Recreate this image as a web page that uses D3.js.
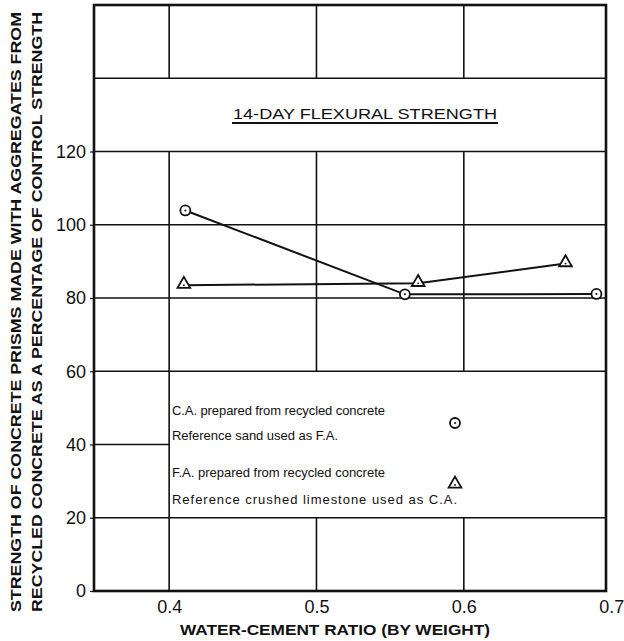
<!DOCTYPE html>
<html>
<head>
<meta charset="utf-8">
<script src="https://cdn.jsdelivr.net/npm/d3@7"></script>
<style>
  body { margin: 0; background: #fff; }
  text { font-family: "Liberation Sans", Arial, sans-serif; fill: #111; }
</style>
</head>
<body>
<div id="chart"></div>
<script>
// data
var caRatio = [0.411, 0.560, 0.690];
var caStrength = [103.9, 81.0, 81.1];
var faRatio = [0.410, 0.569, 0.669];
var faStrength = [83.5, 84.0, 89.4];
var xTicks = [0.4, 0.5, 0.6, 0.7];
var yTicks = [0, 20, 40, 60, 80, 100, 120];
var legendText = [
  ["C.A. prepared from recycled concrete", "Reference sand used as F.A."],
  ["F.A. prepared from recycled concrete", "Reference crushed limestone used as C.A."]
];

var width = 624, height = 641;
var plotLeft = 94, plotRight = 606, plotTop = 5, plotBottom = 591;

var x = d3.scaleLinear().domain([0.349, 0.6965]).range([plotLeft, plotRight]);
var y = d3.scaleLinear().domain([0, 160]).range([plotBottom, plotTop]);

var svg = d3.select("#chart").append("svg")
  .attr("width", width).attr("height", height)
  .attr("viewBox", [0, 0, width, height]);

var grid = svg.append("g").attr("stroke", "#111").attr("stroke-width", 1.6).attr("fill", "none");

// horizontal rules
[20, 60, 80, 100, 120, 140].forEach(function (v) {
  grid.append("line").attr("x1", x(0.349)).attr("x2", x(0.6965)).attr("y1", y(v)).attr("y2", y(v));
});
grid.append("line").attr("x1", x(0.349)).attr("x2", x(0.4)).attr("y1", y(40)).attr("y2", y(40));

// vertical rules, broken by the title band and the legend box
grid.append("line").attr("x1", x(0.4)).attr("x2", x(0.4)).attr("y1", y(160)).attr("y2", y(140));
grid.append("line").attr("x1", x(0.4)).attr("x2", x(0.4)).attr("y1", y(120)).attr("y2", y(0));
[0.5, 0.6].forEach(function (v) {
  grid.append("line").attr("x1", x(v)).attr("x2", x(v)).attr("y1", y(160)).attr("y2", y(140));
  grid.append("line").attr("x1", x(v)).attr("x2", x(v)).attr("y1", y(120)).attr("y2", y(60));
  grid.append("line").attr("x1", x(v)).attr("x2", x(v)).attr("y1", y(20)).attr("y2", y(0));
});

// frame
svg.append("rect").attr("x", plotLeft).attr("y", plotTop)
  .attr("width", plotRight - plotLeft).attr("height", plotBottom - plotTop)
  .attr("fill", "none").attr("stroke", "#111").attr("stroke-width", 2.6);

// axes
var yAxis = d3.axisLeft(y).tickValues(yTicks).tickSize(4).tickPadding(4).tickFormat(d3.format("d"));
var gy = svg.append("g").attr("transform", "translate(" + plotLeft + ",0)").call(yAxis);
gy.select(".domain").remove();
gy.selectAll("text").attr("font-size", 18).attr("font-family", null);
gy.selectAll("line").attr("stroke", "#111").attr("stroke-width", 1.2);

var xAxis = d3.axisBottom(x).tickValues(xTicks).tickSize(0).tickPadding(9).tickFormat(d3.format(".1f"));
var gx = svg.append("g").attr("transform", "translate(0," + plotBottom + ")").call(xAxis);
gx.select(".domain").remove();
gx.selectAll("text").attr("font-size", 18).attr("font-family", null);

// axis titles
svg.append("text")
  .attr("x", 335).attr("y", 635).attr("text-anchor", "middle")
  .attr("font-size", 15).attr("font-weight", "bold")
  .attr("textLength", 310).attr("lengthAdjust", "spacingAndGlyphs")
  .text("WATER-CEMENT RATIO (BY WEIGHT)");

svg.append("text")
  .attr("transform", "translate(21,312) rotate(-90)").attr("text-anchor", "middle")
  .attr("font-size", 15).attr("font-weight", "bold")
  .attr("textLength", 600).attr("lengthAdjust", "spacingAndGlyphs")
  .text("STRENGTH OF CONCRETE PRISMS MADE WITH AGGREGATES FROM");
svg.append("text")
  .attr("transform", "translate(42,312) rotate(-90)").attr("text-anchor", "middle")
  .attr("font-size", 15).attr("font-weight", "bold")
  .attr("textLength", 600).attr("lengthAdjust", "spacingAndGlyphs")
  .text("RECYCLED CONCRETE AS A PERCENTAGE OF CONTROL STRENGTH");

// chart title
svg.append("text")
  .attr("x", 365).attr("y", 119).attr("text-anchor", "middle")
  .attr("font-size", 15)
  .attr("textLength", 264).attr("lengthAdjust", "spacingAndGlyphs")
  .text("14-DAY FLEXURAL STRENGTH");
svg.append("line").attr("x1", 232).attr("x2", 498).attr("y1", 123).attr("y2", 123)
  .attr("stroke", "#111").attr("stroke-width", 1.8);

// lines
var line = d3.line().x(function (d) { return x(d[0]); }).y(function (d) { return y(d[1]); });
var ca = d3.zip(caRatio, caStrength);
var fa = d3.zip(faRatio, faStrength);

svg.append("path").datum(ca).attr("d", line).attr("fill", "none").attr("stroke", "#111").attr("stroke-width", 2);
svg.append("path").datum(fa).attr("d", line).attr("fill", "none").attr("stroke", "#111").attr("stroke-width", 2);

function circleMark(g) {
  g.append("circle").attr("r", 5).attr("fill", "#fff").attr("stroke", "#111").attr("stroke-width", 1.8);
  g.append("circle").attr("r", 1).attr("fill", "#111");
}
function triMark(g) {
  g.append("path").attr("d", d3.symbol(d3.symbolTriangle, 70)()).attr("transform", "translate(0,-1)")
    .attr("fill", "#fff").attr("stroke", "#111").attr("stroke-width", 1.8);
  g.append("circle").attr("r", 0.9).attr("fill", "#111");
}

svg.selectAll("g.ca").data(ca).enter().append("g").attr("class", "ca")
  .attr("transform", function (d) { return "translate(" + x(d[0]) + "," + y(d[1]) + ")"; })
  .each(function () { circleMark(d3.select(this)); });
svg.selectAll("g.fa").data(fa).enter().append("g").attr("class", "fa")
  .attr("transform", function (d) { return "translate(" + x(d[0]) + "," + y(d[1]) + ")"; })
  .each(function () { triMark(d3.select(this)); });

// legend
var lg = svg.append("g");
var rows = [[415, 440], [477, 504]];
var widths = [[213, 166], [213, 285]];
legendText.forEach(function (lines, i) {
  lines.forEach(function (t, j) {
    lg.append("text").attr("x", 172).attr("y", rows[i][j]).attr("font-size", 13)
      .attr("textLength", widths[i][j]).attr("lengthAdjust", "spacing").text(t);
  });
});
circleMark(lg.append("g").attr("transform", "translate(455,423)"));
triMark(lg.append("g").attr("transform", "translate(455,485)"));
</script>
</body>
</html>
